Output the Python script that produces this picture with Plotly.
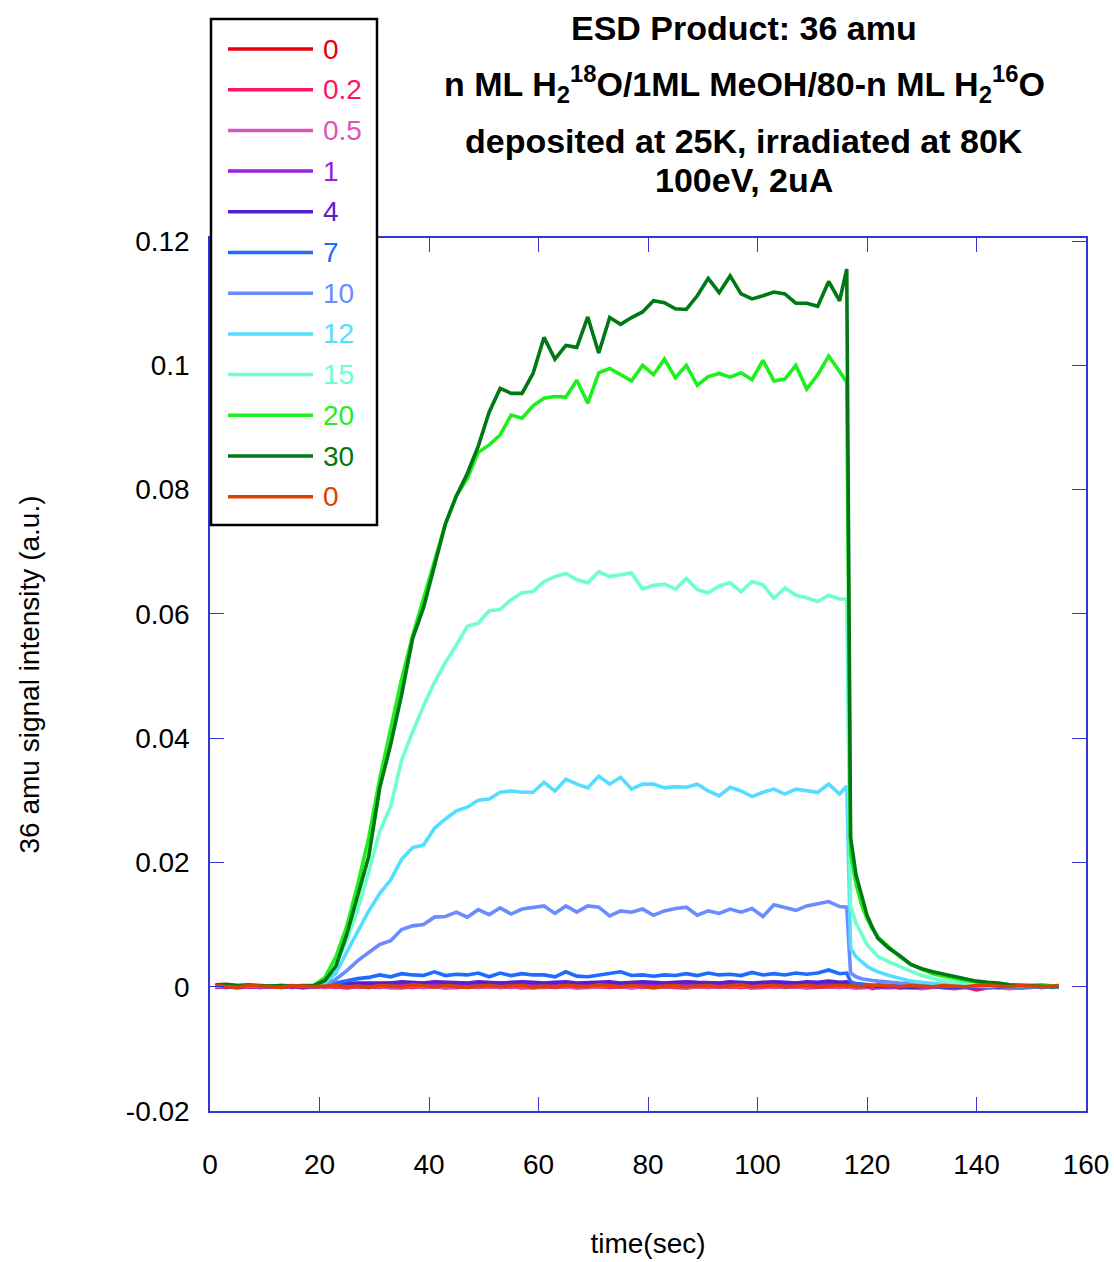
import plotly.graph_objects as go

# ---------------- data ----------------
time_s = [1, 3, 5, 7, 9, 11, 13, 15, 17, 19,
          21, 23, 25, 27, 29, 31, 33, 35, 37, 39, 41, 43, 45, 47, 49, 51, 53, 55, 57, 59,
          61, 63, 65, 67, 69, 71, 73, 75, 77, 79, 81, 83, 85, 87, 89, 91, 93, 95, 97, 99,
          101, 103, 105, 107, 109, 111, 113, 115,
          116.3, 117,
          118, 119, 120, 121, 122, 124, 126, 128, 130, 132, 134, 136, 138, 140, 142, 144,
          146, 148, 150, 152, 154, 155]

sig_0 = [0.0000, -0.0001, 0.0001, 0.0000, -0.0001, 0.0000, 0.0001, -0.0001, 0.0000, 0.0001,
         0.0000, -0.0001, 0.0001, 0.0000, 0.0000, -0.0001, 0.0001, 0.0000, -0.0001, 0.0000,
         0.0001, 0.0000, -0.0001, 0.0000, 0.0001, 0.0000, 0.0000, -0.0001, 0.0001, 0.0000,
         -0.0001, 0.0000, 0.0001, 0.0000, 0.0000, -0.0001, 0.0000, 0.0001, 0.0000, -0.0001,
         0.0000, 0.0001, 0.0000, -0.0001, 0.0000, 0.0000, 0.0001, 0.0000, -0.0001, 0.0000,
         0.0001, 0.0000, 0.0000, -0.0001, 0.0000, 0.0001, 0.0000, 0.0000,
         0.0001, 0.0000,
         -0.0001, 0.0000, 0.0001, 0.0000, -0.0001, 0.0000, 0.0001, 0.0000, -0.0001, 0.0000,
         0.0000, 0.0001, -0.0001, 0.0000, 0.0000, -0.0001, 0.0000, 0.0001, 0.0000, -0.0001,
         0.0000, 0.0000]

sig_0p2 = [-0.0001, 0.0000, -0.0002, 0.0000, -0.0001, 0.0001, -0.0001, 0.0000, -0.0002, 0.0000,
           -0.0001, 0.0000, -0.0002, 0.0000, -0.0001, 0.0001, -0.0001, -0.0002, 0.0000, -0.0001,
           0.0000, -0.0002, -0.0001, 0.0000, -0.0001, 0.0001, -0.0001, 0.0000, -0.0002, -0.0001,
           0.0000, -0.0001, 0.0000, -0.0002, -0.0001, 0.0000, -0.0001, 0.0000, -0.0002, 0.0000,
           -0.0001, 0.0000, -0.0001, -0.0002, 0.0000, -0.0001, 0.0000, -0.0001, 0.0000, -0.0002,
           -0.0001, 0.0000, -0.0001, 0.0000, -0.0002, -0.0001, 0.0000, -0.0001,
           0.0000, -0.0001,
           -0.0002, -0.0001, 0.0000, -0.0003, -0.0001, 0.0000, -0.0002, -0.0001, -0.0002, 0.0000,
           -0.0001, -0.0003, -0.0001, -0.0005, -0.0002, 0.0000, -0.0001, -0.0002, -0.0001, 0.0000,
           -0.0001, 0.0000]

sig_0p5 = [0.0000, -0.0001, 0.0000, 0.0001, -0.0001, 0.0000, 0.0000, -0.0001, 0.0001, 0.0000,
           -0.0001, 0.0000, 0.0001, -0.0001, 0.0000, 0.0000, -0.0002, 0.0000, 0.0001, -0.0001,
           0.0000, -0.0001, 0.0000, 0.0001, -0.0001, 0.0000, -0.0001, 0.0000, 0.0000, -0.0002,
           0.0000, 0.0001, -0.0001, 0.0000, -0.0001, 0.0000, 0.0001, 0.0000, -0.0001, 0.0000,
           -0.0002, 0.0000, 0.0001, -0.0001, 0.0000, 0.0000, -0.0001, 0.0000, 0.0001, -0.0001,
           0.0000, -0.0001, 0.0000, 0.0000, -0.0001, 0.0001, 0.0000, -0.0001,
           0.0000, -0.0001,
           0.0000, -0.0002, -0.0001, 0.0000, -0.0001, -0.0002, 0.0000, -0.0001, -0.0003, -0.0001,
           0.0000, -0.0002, -0.0001, 0.0000, -0.0002, -0.0001, -0.0003, -0.0001, 0.0000, -0.0001,
           0.0000, -0.0001]

sig_1 = [0.0000, 0.0001, 0.0000, 0.0000, 0.0001, 0.0000, 0.0001, 0.0000, 0.0000, 0.0001,
         0.0001, 0.0003, 0.0004, 0.0005, 0.0004, 0.0005, 0.0006, 0.0004, 0.0005, 0.0006,
         0.0005, 0.0004, 0.0006, 0.0005, 0.0004, 0.0005, 0.0006, 0.0005, 0.0004, 0.0005,
         0.0006, 0.0005, 0.0005, 0.0004, 0.0006, 0.0005, 0.0004, 0.0005, 0.0006, 0.0005,
         0.0004, 0.0005, 0.0006, 0.0005, 0.0004, 0.0006, 0.0005, 0.0005, 0.0004, 0.0006,
         0.0005, 0.0004, 0.0005, 0.0006, 0.0005, 0.0004, 0.0006, 0.0005,
         0.0005, 0.0002,
         0.0001, 0.0001, 0.0000, 0.0001, 0.0000, 0.0000, -0.0001, 0.0000, 0.0001, 0.0000,
         -0.0001, 0.0000, 0.0000, -0.0002, 0.0000, 0.0001, 0.0000, -0.0001, 0.0000, 0.0000,
         0.0001, 0.0000]

sig_4 = [0.0001, 0.0000, 0.0001, 0.0001, 0.0000, 0.0001, 0.0000, 0.0001, 0.0001, 0.0000,
         0.0002, 0.0004, 0.0005, 0.0006, 0.0006, 0.0007, 0.0006, 0.0008, 0.0007, 0.0006,
         0.0008, 0.0007, 0.0007, 0.0006, 0.0008, 0.0007, 0.0006, 0.0007, 0.0008, 0.0007,
         0.0006, 0.0007, 0.0008, 0.0006, 0.0007, 0.0007, 0.0008, 0.0006, 0.0007, 0.0008,
         0.0007, 0.0006, 0.0007, 0.0008, 0.0007, 0.0007, 0.0006, 0.0008, 0.0007, 0.0006,
         0.0007, 0.0008, 0.0007, 0.0006, 0.0008, 0.0007, 0.0009, 0.0007,
         0.0008, 0.0003,
         0.0002, 0.0002, 0.0001, 0.0001, 0.0000, 0.0001, 0.0000, -0.0001, 0.0000, 0.0001,
         0.0000, -0.0001, 0.0000, 0.0000, 0.0001, -0.0001, 0.0000, 0.0001, 0.0000, 0.0000,
         -0.0001, 0.0000]

sig_7 = [0.0001, 0.0001, 0.0002, 0.0001, 0.0001, 0.0001, 0.0002, 0.0001, 0.0001, 0.0001,
         0.0001, 0.0006, 0.0010, 0.0013, 0.0015, 0.0019, 0.0016, 0.0021, 0.0019, 0.0018,
         0.0024, 0.0018, 0.0020, 0.0019, 0.0022, 0.0016, 0.0022, 0.0018, 0.0021, 0.0019,
         0.0019, 0.0016, 0.0024, 0.0017, 0.0016, 0.0019, 0.0021, 0.0024, 0.0018, 0.0019,
         0.0017, 0.0019, 0.0018, 0.0021, 0.0018, 0.0022, 0.0019, 0.0020, 0.0018, 0.0023,
         0.0019, 0.0021, 0.0019, 0.0022, 0.0020, 0.0022, 0.0027, 0.0021,
         0.0022, 0.0008,
         0.0005, 0.0004, 0.0003, 0.0003, 0.0002, 0.0002, 0.0001, 0.0002, 0.0001, 0.0001,
         0.0000, 0.0001, 0.0000, 0.0001, 0.0000, 0.0001, 0.0000, 0.0000, 0.0001, 0.0000,
         0.0001, 0.0000]

sig_10 = [0.0001, 0.0002, 0.0001, 0.0001, 0.0002, 0.0001, 0.0001, 0.0002, 0.0001, 0.0001,
          0.0003, 0.0012, 0.0026, 0.0042, 0.0055, 0.0068, 0.0074, 0.0092, 0.0098, 0.0100,
          0.0112, 0.0113, 0.0120, 0.0112, 0.0124, 0.0116, 0.0127, 0.0117, 0.0125, 0.0128,
          0.0130, 0.0118, 0.0130, 0.0120, 0.0130, 0.0128, 0.0114, 0.0122, 0.0120, 0.0125,
          0.0115, 0.0122, 0.0126, 0.0128, 0.0115, 0.0122, 0.0118, 0.0125, 0.0120, 0.0126,
          0.0113, 0.0132, 0.0128, 0.0123, 0.0130, 0.0134, 0.0137, 0.0129,
          0.0128, 0.0022,
          0.0016, 0.0013, 0.0011, 0.0010, 0.0009, 0.0007, 0.0006, 0.0005, 0.0004, 0.0003,
          0.0002, 0.0002, 0.0001, 0.0001, 0.0000, 0.0001, 0.0000, 0.0001, 0.0000, 0.0001,
          0.0000, 0.0000]

sig_12 = [0.0001, 0.0001, 0.0002, 0.0001, 0.0001, 0.0002, 0.0001, 0.0001, 0.0001, 0.0002,
          0.0006, 0.0022, 0.0056, 0.0088, 0.0122, 0.0150, 0.0172, 0.0205, 0.0224, 0.0228,
          0.0255, 0.0270, 0.0283, 0.0289, 0.0300, 0.0302, 0.0313, 0.0315, 0.0313, 0.0313,
          0.0329, 0.0315, 0.0334, 0.0326, 0.0320, 0.0339, 0.0326, 0.0337, 0.0318, 0.0326,
          0.0326, 0.0320, 0.0322, 0.0321, 0.0326, 0.0315, 0.0307, 0.0321, 0.0315, 0.0306,
          0.0313, 0.0318, 0.0310, 0.0318, 0.0315, 0.0313, 0.0326, 0.0310,
          0.0323, 0.0062,
          0.0048, 0.0040, 0.0033, 0.0028, 0.0024, 0.0018, 0.0013, 0.0009, 0.0007, 0.0005,
          0.0004, 0.0003, 0.0002, 0.0002, 0.0001, 0.0001, 0.0000, 0.0001, 0.0001, 0.0000,
          0.0001, 0.0000]

sig_15 = [0.0001, 0.0002, 0.0001, 0.0002, 0.0001, 0.0001, 0.0002, 0.0001, 0.0001, 0.0002,
          0.0010, 0.0035, 0.0075, 0.0125, 0.0185, 0.0250, 0.0290, 0.0365, 0.0410, 0.0452,
          0.0490, 0.0522, 0.0550, 0.0580, 0.0585, 0.0605, 0.0607, 0.0623, 0.0634, 0.0636,
          0.0652, 0.0660, 0.0665, 0.0655, 0.0650, 0.0668, 0.0660, 0.0663, 0.0666, 0.0640,
          0.0646, 0.0648, 0.0640, 0.0657, 0.0639, 0.0634, 0.0645, 0.0650, 0.0636, 0.0652,
          0.0647, 0.0625, 0.0642, 0.0630, 0.0626, 0.0620, 0.0630, 0.0624,
          0.0624, 0.0130,
          0.0102, 0.0085, 0.0068, 0.0058, 0.0049, 0.0040, 0.0032, 0.0025, 0.0018, 0.0013,
          0.0009, 0.0007, 0.0005, 0.0004, 0.0003, 0.0002, 0.0002, 0.0001, 0.0001, 0.0002,
          0.0001, 0.0001]

sig_20 = [0.0002, 0.0003, 0.0002, 0.0001, 0.0002, 0.0001, 0.0002, 0.0001, 0.0001, 0.0002,
          0.0015, 0.0048, 0.0098, 0.0165, 0.0240, 0.0335, 0.0415, 0.0495, 0.0565, 0.0625,
          0.0690, 0.0745, 0.0790, 0.0818, 0.0860, 0.0872, 0.0888, 0.0920, 0.0915, 0.0935,
          0.0947, 0.0950, 0.0949, 0.0976, 0.0939, 0.0988, 0.0995, 0.0985, 0.0975, 0.1000,
          0.0985, 0.1010, 0.0980, 0.1000, 0.0968, 0.0982, 0.0987, 0.0981, 0.0988, 0.0977,
          0.1008, 0.0975, 0.0978, 0.1000, 0.0962, 0.0985, 0.1015, 0.0990,
          0.0973, 0.0215,
          0.0165, 0.0132, 0.0110, 0.0093, 0.0080, 0.0064, 0.0048, 0.0036, 0.0028, 0.0021,
          0.0017, 0.0013, 0.0010, 0.0008, 0.0006, 0.0004, 0.0003, 0.0002, 0.0002, 0.0003,
          0.0001, 0.0002]

sig_30 = [0.0003, 0.0004, 0.0002, 0.0003, 0.0002, 0.0001, 0.0002, 0.0001, 0.0002, 0.0002,
          0.0010, 0.0033, 0.0085, 0.0145, 0.0210, 0.0320, 0.0390, 0.0470, 0.0560, 0.0610,
          0.0675, 0.0745, 0.0790, 0.0826, 0.0870, 0.0925, 0.0963, 0.0955, 0.0955, 0.0987,
          0.1045, 0.1010, 0.1032, 0.1029, 0.1078, 0.1020, 0.1077, 0.1066, 0.1077, 0.1086,
          0.1104, 0.1101, 0.1091, 0.1090, 0.1112, 0.1140, 0.1117, 0.1144, 0.1115, 0.1107,
          0.1112, 0.1118, 0.1115, 0.1100, 0.1100, 0.1095, 0.1135, 0.1104,
          0.1155, 0.0240,
          0.0180, 0.0145, 0.0115, 0.0095, 0.0078, 0.0062, 0.0050, 0.0036, 0.0029, 0.0024,
          0.0020, 0.0017, 0.0013, 0.0009, 0.0007, 0.0006, 0.0003, 0.0002, 0.0001, 0.0001,
          0.0000, 0.0001]

sig_0b = [0.0002, 0.0000, -0.0001, 0.0002, 0.0001, 0.0000, -0.0001, 0.0002, 0.0001, 0.0000,
          0.0001, 0.0002, 0.0000, 0.0001, -0.0001, 0.0002, 0.0001, 0.0000, 0.0003, 0.0001,
          0.0000, 0.0002, 0.0001, -0.0001, 0.0001, 0.0002, 0.0000, 0.0001, 0.0002, -0.0001,
          0.0001, 0.0000, 0.0002, 0.0001, 0.0000, 0.0003, 0.0001, 0.0000, 0.0002, 0.0001,
          -0.0001, 0.0001, 0.0002, 0.0000, 0.0001, 0.0002, 0.0000, 0.0001, 0.0003, 0.0000,
          0.0001, 0.0002, 0.0000, 0.0001, 0.0002, 0.0000, 0.0001, 0.0002,
          0.0001, 0.0002,
          0.0001, 0.0000, 0.0002, 0.0001, 0.0003, 0.0001, 0.0000, 0.0002, 0.0001, 0.0000,
          0.0002, 0.0001, 0.0000, 0.0002, 0.0003, 0.0001, 0.0000, 0.0002, 0.0001, 0.0000,
          0.0001, 0.0002]

series_names = ["0", "0.2", "0.5", "1", "4", "7", "10", "12", "15", "20", "30", "0"]
series_values = [sig_0, sig_0p2, sig_0p5, sig_1, sig_4, sig_7, sig_10, sig_12,
                 sig_15, sig_20, sig_30, sig_0b]
series_colors = ["#e8000b", "#ff1464", "#dd55bb", "#9b1fe0", "#5a1fcc", "#1f6bff",
                 "#6b8cff", "#55ddff", "#70ffcc", "#1ef01e", "#007814", "#dd4000"]

x_ticks = [0, 20, 40, 60, 80, 100, 120, 140, 160]
y_ticks = [-0.02, 0, 0.02, 0.04, 0.06, 0.08, 0.1, 0.12]
y_ticktext = ["-0.02", "0", "0.02", "0.04", "0.06", "0.08", "0.1", "0.12"]

for v in series_values:
    assert len(v) == len(time_s), len(v)

# ---------------- layout constants ----------------
W, H = 1114, 1262
ML, MR, MT, MB = 210, 28, 238, 151
PW, PH = W - ML - MR, H - MT - MB
FONT = "Arial, Liberation Sans, Helvetica, sans-serif"
AXC = "#3535d5"


def px_x(px):
    return (px - ML) / PW


def px_y(py):
    return (H - MB - py) / PH


fig = go.Figure()
for name, vals, col in zip(series_names, series_values, series_colors):
    fig.add_trace(go.Scatter(x=time_s, y=vals, mode="lines", name=name,
                             line=dict(color=col, width=3.6), showlegend=False))

axis_common = dict(showline=True, linecolor=AXC, linewidth=1.5, mirror="ticks",
                   ticks="inside", ticklen=14, tickwidth=1.2, tickcolor=AXC,
                   showgrid=False, zeroline=False,
                   tickfont=dict(family=FONT, size=28, color="black"))

fig.update_xaxes(range=[0, 160], tickvals=x_ticks, ticktext=[str(v) for v in x_ticks],
                 ticklabelstandoff=28,
                 title=dict(text="time(sec)", font=dict(family=FONT, size=28, color="black"),
                            standoff=54),
                 **axis_common)
fig.update_yaxes(range=[-0.02, 0.1205], tickvals=y_ticks, ticktext=y_ticktext,
                 ticklabelstandoff=13,
                 title=dict(text="36 amu signal intensity (a.u.)",
                            font=dict(family=FONT, size=28, color="black"), standoff=78),
                 **axis_common)

shapes = []
annotations = []

# title lines
title_lines = [
    ("ESD Product: 36 amu", 28),
    ("n ML H<sub>2</sub><sup>18</sup>O/1ML MeOH/80-n ML H<sub>2</sub><sup>16</sup>O", 84),
    ("deposited at 25K, irradiated at 80K", 141),
    ("100eV, 2uA", 180),
]
for txt, yc in title_lines:
    annotations.append(dict(text="<b>" + txt + "</b>", xref="paper", yref="paper",
                            x=px_x(744), y=px_y(yc), xanchor="center", yanchor="middle",
                            showarrow=False, font=dict(family=FONT, size=34, color="black")))

# legend box
shapes.append(dict(type="rect", xref="paper", yref="paper", x0=px_x(211), x1=px_x(377),
                   y0=px_y(525), y1=px_y(19), line=dict(color="black", width=2.5),
                   fillcolor="white", layer="above"))
for i, (name, col) in enumerate(zip(series_names, series_colors)):
    yc = 49 + i * 40.7
    shapes.append(dict(type="line", xref="paper", yref="paper", x0=px_x(228), x1=px_x(313),
                       y0=px_y(yc), y1=px_y(yc), line=dict(color=col, width=3.5),
                       layer="above"))
    annotations.append(dict(text=name, xref="paper", yref="paper", x=px_x(321), y=px_y(yc),
                            xanchor="left", yanchor="middle", showarrow=False,
                            font=dict(family=FONT, size=28, color=col)))

fig.update_layout(width=W, height=H, margin=dict(l=ML, r=MR, t=MT, b=MB, autoexpand=False),
                  paper_bgcolor="white", plot_bgcolor="white", showlegend=False,
                  shapes=shapes, annotations=annotations,
                  font=dict(family=FONT, color="black"))

fig.write_html("out.html", config={"displayModeBar": False},
               post_script="document.body.style.margin='0';document.body.style.padding='0';")
